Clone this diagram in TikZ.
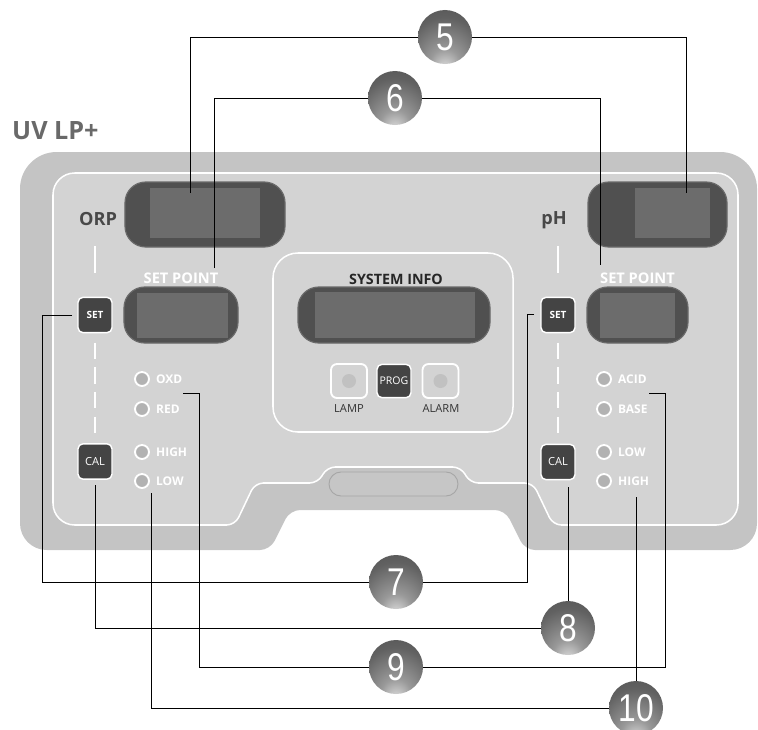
\documentclass[tikz,border=0pt]{standalone}
\usepackage{xcolor}
\usepackage{fontspec}
\setmainfont{Open Sans}
\newfontfamily\numfont{Liberation Sans}
\usepackage{tikz}
\usetikzlibrary{positioning}
\definecolor{panelouter}{RGB}{196,196,196}
\definecolor{panelinner}{RGB}{211,211,211}
\definecolor{dispdark}{RGB}{80,80,80}
\definecolor{dispglass}{RGB}{108,108,108}
\definecolor{keydark}{RGB}{68,68,68}
\definecolor{ledgray}{RGB}{178,178,178}
\definecolor{slotgray}{RGB}{198,198,198}
\definecolor{titlegray}{RGB}{105,105,105}
\definecolor{labelgray}{RGB}{72,72,72}
\pgfdeclareradialshading{callball}{\pgfpoint{0bp}{-30bp}}{color(0bp)=(black!12); color(14bp)=(black!40); color(35bp)=(black!62); color(60bp)=(black!72); color(80bp)=(black!78)}
\newcommand{\ballnum}[1]{\scalebox{0.82}[1]{#1}}

\begin{document}
\begin{tikzpicture}[x=0.03cm, y=-0.03cm]
    \tikzstyle{display} = [rectangle, rounded corners=0.62cm, fill=dispdark, draw=dispdark!85!white, line width=1pt, inner sep=0pt]
    \tikzstyle{glass} = [rectangle, fill=dispglass, inner sep=0pt]
    \tikzstyle{key} = [rectangle, rounded corners=0.15cm, fill=keydark, draw=white, line width=1.2pt, minimum width=1.02cm, minimum height=1.06cm, inner sep=0pt, text=white]
    \tikzstyle{lamp} = [rectangle, rounded corners=0.18cm, fill=panelinner, draw=white, line width=1.6pt, minimum width=1.08cm, minimum height=1.02cm]
    \tikzstyle{led} = [circle, fill=ledgray, draw=white, line width=1.6pt, minimum size=0.42cm, inner sep=0pt]
    \tikzstyle{ledtext} = [text=white, font=\fontsize{10.2}{11}\selectfont\bfseries, inner sep=0pt]
    \tikzstyle{callout} = [circle, shading=callball, minimum size=1.62cm, inner sep=0pt, text=white, font=\numfont\fontsize{33}{33}\selectfont]
    \tikzstyle{leader} = [black, line width=0.8pt]
    \tikzstyle{guide} = [white, line width=1.6pt]

    \useasboundingbox (0,0) rectangle (758,729);

    % housing
    \fill [panelouter, rounded corners=1.1cm] (20,350) -- (20,152) -- (757,152) [rounded corners=0.8cm] -- (757,550) [rounded corners=0.3cm] -- (525,550) -- (505,510) -- (290,510) -- (270,550) [rounded corners=0.8cm] -- (20,550) -- cycle;
    \filldraw [fill=panelinner, draw=white, line width=1.3pt, rounded corners=0.65cm] (53,350) -- (53,173) -- (738,173) -- (738,525) [rounded corners=0.25cm] -- (553,525) -- (533,483) -- (470,483) -- (461,467) -- (327,467) -- (318,483) -- (255,483) -- (235,525) [rounded corners=0.65cm] -- (53,525) -- cycle;
    \node (slot) [rectangle, rounded corners=0.36cm, fill=slotgray, draw=black!35, line width=0.8pt, minimum width=3.87cm, minimum height=0.72cm] at (393.5,484) {};
    \node (sysbox) [rectangle, rounded corners=0.75cm, draw=white, line width=1.3pt, minimum width=7.2cm, minimum height=5.37cm] at (393,342.5) {};

    \node (title) [anchor=west, text=titlegray, font=\fontsize{21.5}{22}\selectfont\bfseries, inner sep=0pt] at (12,131) {UV LP+};
    \node (orplabel) [anchor=base, text=labelgray, font=\fontsize{15.5}{16}\selectfont\bfseries, inner sep=0pt] at (98,225) {ORP};
    \node (phlabel) [anchor=base, text=labelgray, font=\fontsize{15.5}{16}\selectfont\bfseries, inner sep=0pt] at (554,224) {pH};

    % displays
    \node (orpdisp) [display, minimum width=4.8cm, minimum height=1.95cm] at (205,214.5) {};
    \node (orpglass) [glass, minimum width=3.3cm, minimum height=1.5cm] at (205,213) {};
    \node (phdisp) [display, minimum width=4.17cm, minimum height=1.95cm] at (657.5,214.5) {};
    \node (phglass) [glass, minimum width=2.25cm, minimum height=1.5cm] at (672.5,213) {};
    \node (orpsp) [display, minimum width=3.42cm, minimum height=1.68cm] at (181,315) {};
    \node (orpspglass) [glass, minimum width=2.73cm, minimum height=1.35cm] at (182.5,315.5) {};
    \node (phsp) [display, minimum width=3.03cm, minimum height=1.68cm] at (637.5,315) {};
    \node (phspglass) [glass, minimum width=2.25cm, minimum height=1.35cm] at (637.5,315.5) {};
    \node (sysdisp) [display, minimum width=5.76cm, minimum height=1.68cm] at (394,315) {};
    \node (sysglass) [glass, minimum width=4.8cm, minimum height=1.38cm] at (395,315) {};

    \node (orpsplabel) [anchor=base, text=white, font=\fontsize{12.5}{13}\selectfont\bfseries, inner sep=0pt] at (181,283) {SET POINT};
    \node (phsplabel) [anchor=base, text=white, font=\fontsize{12.5}{13}\selectfont\bfseries, inner sep=0pt] at (637.5,283) {SET POINT};
    \node (syslabel) [anchor=base, text=black!85, font=\fontsize{12.2}{13}\selectfont\bfseries, inner sep=0pt] at (396,284) {SYSTEM INFO};

    % keys and lamps
    \node (orpsetkey) [key, font=\fontsize{8.5}{9}\selectfont\bfseries] at (95,315) {SET};
    \node (orpcalkey) [key, font=\fontsize{9.5}{10}\selectfont] at (95,461.5) {CAL};
    \node (phsetkey) [key, font=\fontsize{8.5}{9}\selectfont\bfseries] at (558,315) {SET};
    \node (phcalkey) [key, font=\fontsize{9.5}{10}\selectfont] at (558,462) {CAL};
    \node (progkey) [key, minimum height=1.0cm, font=\fontsize{9}{9}\selectfont] at (394,381) {PROG};
    \node (lampbox) [lamp] at (349,381) {};
    \node (lampled) [circle, fill=ledgray!80!white, minimum size=0.42cm, inner sep=0pt] at (lampbox) {};
    \node (alarmbox) [lamp] at (440.5,381) {};
    \node (alarmled) [circle, fill=ledgray!80!white, minimum size=0.42cm, inner sep=0pt] at (alarmbox) {};
    \node (lamplabel) [anchor=base, text=black!80, font=\fontsize{9.5}{10}\selectfont, inner sep=0pt] at (349,412) {LAMP};
    \node (alarmlabel) [anchor=base, text=black!80, font=\fontsize{9.5}{10}\selectfont, inner sep=0pt] at (441,412) {ALARM};

    \draw [guide] (95,246) -- (95,273);
    \draw [guide] (558,246) -- (558,273);
    \draw [guide, dash pattern=on 14pt off 7pt, shorten <=8pt, shorten >=6pt] (orpsetkey) -- (orpcalkey);
    \draw [guide, dash pattern=on 14pt off 7pt, shorten <=8pt, shorten >=6pt] (phsetkey) -- (phcalkey);

    % indicator leds
    \node (oxd) [led] at (142,379) {};
    \node (red) [led] at (142,409) {};
    \node (orphigh) [led] at (142,452) {};
    \node (orplow) [led] at (142,481) {};
    \node (acid) [led] at (604,379) {};
    \node (base) [led] at (604,409) {};
    \node (phlow) [led] at (604,452) {};
    \node (phhigh) [led] at (604,481) {};
    \node (oxdtext) [ledtext, right=0.18cm of oxd] {OXD};
    \node (redtext) [ledtext, right=0.18cm of red] {RED};
    \node (orphightext) [ledtext, right=0.18cm of orphigh] {HIGH};
    \node (orplowtext) [ledtext, right=0.18cm of orplow] {LOW};
    \node (acidtext) [ledtext, right=0.18cm of acid] {ACID};
    \node (basetext) [ledtext, right=0.18cm of base] {BASE};
    \node (phlowtext) [ledtext, right=0.18cm of phlow] {LOW};
    \node (phhightext) [ledtext, right=0.18cm of phhigh] {HIGH};

    % callouts
    \node (n5) [callout] at (445,37) {\ballnum{5}};
    \node (n6) [callout] at (395,98) {\ballnum{6}};
    \node (n7) [callout] at (396,582) {\ballnum{7}};
    \node (n8) [callout] at (568,628) {\ballnum{8}};
    \node (n9) [callout] at (396,667) {\ballnum{9}};
    \node (n10) [callout] at (636,708) {\ballnum{10}};

    \coordinate (c5a) at (190,193);
    \coordinate (c5b) at (686,193);
    \coordinate (c6a) at (214,268);
    \coordinate (c6b) at (600,265);
    \coordinate (c7a) at (72,315);
    \coordinate (k7a) at (42,582);
    \coordinate (c7b) at (534,314);
    \coordinate (k7b) at (527,314);
    \coordinate (c8a) at (95,485);
    \coordinate (c8b) at (568,487);
    \coordinate (c9a) at (183,393);
    \coordinate (k9a) at (199,393);
    \coordinate (c9b) at (649,393);
    \coordinate (k9b) at (665,393);
    \coordinate (c10a) at (151,493);
    \coordinate (c10b) at (636,497);

    \draw [leader] (c5a) |- (n5);
    \draw [leader] (n5) -| (c5b);
    \draw [leader] (c6a) |- (n6);
    \draw [leader] (n6) -| (c6b);
    \draw [leader] (c7a) -| (k7a) -- (n7);
    \draw [leader] (c7b) -- (k7b) |- (n7);
    \draw [leader] (c8a) |- (n8);
    \draw [leader] (c8b) -- (n8);
    \draw [leader] (c9a) -- (k9a) |- (n9);
    \draw [leader] (c9b) -- (k9b) |- (n9);
    \draw [leader] (c10a) |- (n10);
    \draw [leader] (c10b) -- (n10);
\end{tikzpicture}
\end{document}
